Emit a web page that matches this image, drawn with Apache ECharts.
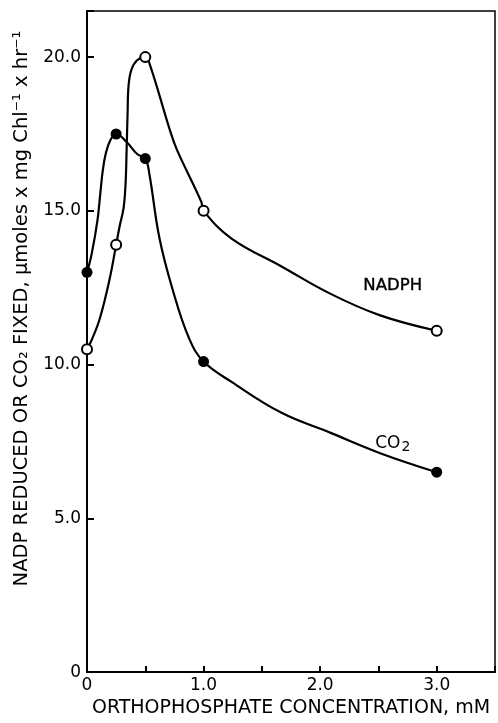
<!DOCTYPE html>
<html>
<head>
<meta charset="utf-8">
<script src="https://cdn.jsdelivr.net/npm/echarts@6/dist/echarts.min.js"></script>
<style>
html,body{margin:0;padding:0;background:#fff}
#chart{width:498px;height:723px}
</style>
</head>
<body>
<div id="chart"></div>
<script>
// Measured points (orthophosphate concentration, mM)
const concentrations = [0, 0.25, 0.5, 1.0, 3.0];
const nadphValues = [10.5, 13.9, 20.0, 15.0, 11.1];
const co2Values = [13.0, 17.5, 16.7, 10.1, 6.5];

// Hand-drawn curves
const nadphCurveX = [0, 0.04, 0.11, 0.195, 0.25, 0.28, 0.314, 0.331, 0.34, 0.348, 0.357, 0.382, 0.43, 0.5, 0.54, 0.705, 0.77, 0.98, 1.0, 1.24, 1.665, 2.09, 2.515, 3.0];
const nadphCurveY = [10.5, 10.8, 11.5, 12.8, 13.9, 14.5, 15.1, 15.9, 17.0, 18.15, 19.1, 19.6, 19.9, 20.0, 19.75, 17.7, 17.0, 15.3, 15.0, 14.1, 13.2, 12.3, 11.6, 11.1];
const co2CurveX = [0, 0.04, 0.09, 0.115, 0.135, 0.16, 0.2, 0.25, 0.34, 0.43, 0.5, 0.535, 0.62, 0.73, 0.875, 1.0, 1.24, 1.665, 2.09, 2.515, 3.0];
const co2CurveY = [13.0, 13.6, 14.7, 15.6, 16.3, 16.85, 17.3, 17.5, 17.24, 16.85, 16.7, 16.2, 14.14, 12.5, 10.86, 10.1, 9.44, 8.44, 7.78, 7.12, 6.5];

// Axis texts
const xAxisTitle = 'ORTHOPHOSPHATE CONCENTRATION, mM';
const yAxisTitle = 'NADP REDUCED OR CO\u2082 FIXED, \u03bcmoles x mg Chl\u207b\u00b9 x hr\u207b\u00b9';
const seriesNames = ['NADPH', 'CO2'];

const FONT = 'DejaVu Sans';
const zip = (xs, ys) => xs.map((x, i) => [x, ys[i]]);

const chart = echarts.init(document.getElementById('chart'), null, {renderer: 'canvas'});
const last = concentrations.length - 1;

chart.setOption({
  animation: false,
  backgroundColor: '#fff',
  grid: {left: 87, right: 1, top: 11, bottom: 47, show: true, borderColor: '#000', borderWidth: 1.5},
  xAxis: {
    type: 'value', min: 0, max: 3.5, interval: 0.5,
    axisLine: {show: true, lineStyle: {color: '#000', width: 2}},
    axisTick: {show: true, inside: true, length: 6, lineStyle: {color: '#000', width: 2}},
    splitLine: {show: false},
    axisLabel: {
      color: '#000', fontSize: 17, fontFamily: FONT, margin: 5,
      formatter: v => v === 0 ? '0' : (Math.abs(v - Math.round(v)) < 1e-9 && v <= 3 ? v.toFixed(1) : '')
    },
    name: xAxisTitle, nameLocation: 'middle', nameGap: 24,
    nameTextStyle: {color: '#000', fontSize: 19, fontFamily: FONT}
  },
  yAxis: {
    type: 'value', min: 0, max: 21.5, interval: 5,
    axisLine: {show: true, lineStyle: {color: '#000', width: 2}},
    axisTick: {show: true, inside: true, length: 7, lineStyle: {color: '#000', width: 2}},
    splitLine: {show: false},
    axisLabel: {
      color: '#000', fontSize: 17, fontFamily: FONT, margin: 6,
      formatter: v => v === 0 ? '0' : (v % 5 === 0 ? v.toFixed(1) : '')
    },
    name: yAxisTitle, nameLocation: 'middle', nameGap: 54, nameRotate: 90,
    nameTextStyle: {color: '#000', fontSize: 19.5, fontFamily: FONT, padding: [0, 0, 0, 66]}
  },
  series: [
    {
      type: 'line', data: zip(nadphCurveX, nadphCurveY), smooth: 0.4,
      showSymbol: false, silent: true, lineStyle: {color: '#000', width: 2.2}, z: 2
    },
    {
      type: 'line', data: zip(co2CurveX, co2CurveY), smooth: 0.4,
      showSymbol: false, silent: true, lineStyle: {color: '#000', width: 2.2}, z: 2
    },
    {
      name: seriesNames[0], type: 'scatter', data: zip(concentrations, nadphValues),
      symbol: 'circle', symbolSize: 10,
      itemStyle: {color: '#fff', borderColor: '#000', borderWidth: 2, opacity: 1}, z: 3,
      label: {
        show: true, position: 'inside', offset: [-44, -45],
        color: '#000', fontSize: 16.5, fontFamily: FONT, textBorderWidth: 0.4, textBorderColor: '#000',
        formatter: p => p.dataIndex === last ? seriesNames[0] : ''
      }
    },
    {
      name: seriesNames[1], type: 'scatter', data: zip(concentrations, co2Values),
      symbol: 'circle', symbolSize: 11,
      itemStyle: {color: '#000', opacity: 1}, z: 3,
      label: {
        show: true, position: 'inside', offset: [-44, -29],
        color: '#000', fontSize: 17, fontFamily: FONT, textBorderWidth: 0,
        formatter: p => p.dataIndex === last ? '{a|CO}{b|2}' : '',
        rich: {
          a: {color: '#000', fontSize: 17, fontFamily: FONT},
          b: {color: '#000', fontSize: 14, fontFamily: FONT, padding: [9, 0, 0, 1]}
        }
      }
    }
  ]
});
</script>
</body>
</html>
